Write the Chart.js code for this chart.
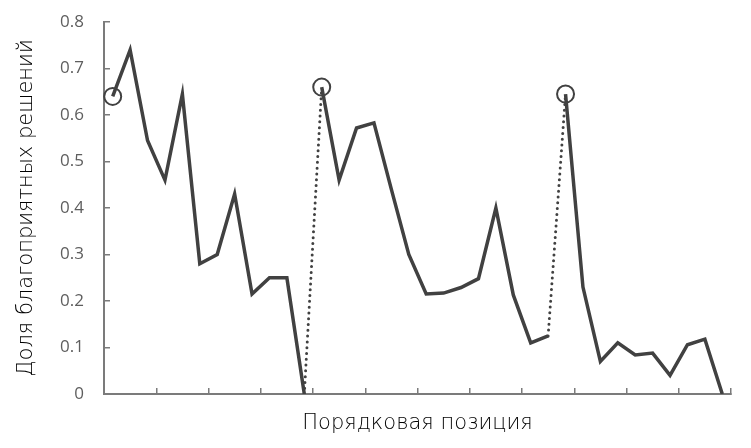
<!DOCTYPE html>
<html>
<head>
<meta charset="utf-8">
<script src="https://cdn.jsdelivr.net/npm/chart.js@4"></script>
<style>
  html, body { margin: 0; padding: 0; background: #fff; }
  #wrap { width: 751px; height: 448px; }
</style>
</head>
<body>
<div id="wrap"><canvas id="chart"></canvas></div>
<script>
// ordinal positions (categories)
const positions = [1, 2, 3, 4, 5, 6, 7, 8, 9, 10, 11, 12,
  13, 14, 15, 16, 17, 18, 19, 20, 21, 22, 23, 24, 25, 26,
  27, 28, 29, 30, 31, 32, 33, 34, 35, 36];

// share of favourable decisions
const shares = [0.64, 0.74, 0.545, 0.46, 0.645, 0.28, 0.30, 0.43, 0.215, 0.25, 0.25, 0.0,
  0.66, 0.46, 0.572, 0.583, 0.44, 0.30, 0.215, 0.217, 0.229, 0.248, 0.40, 0.213, 0.11, 0.125,
  0.645, 0.23, 0.07, 0.11, 0.084, 0.088, 0.04, 0.106, 0.118, 0.0];

// points with a circle round them
const circled = [0, 12, 26];
// segments starting at these indices are dotted (the breaks)
const dottedFrom = [11, 25];

// y tick values
const yTicks = [0, 0.1, 0.2, 0.3, 0.4, 0.5, 0.6, 0.7, 0.8];

const lineColor = '#414141';
const axisColor = '#7b7b7b';

const ctx = document.getElementById('chart').getContext('2d');
new Chart(ctx, {
  type: 'line',
  data: {
    labels: positions,
    datasets: [{
      data: shares,
      borderColor: lineColor,
      borderWidth: 3.5,
      borderJoinStyle: 'miter',
      tension: 0,
      pointRadius: c => circled.includes(c.dataIndex) ? 8.5 : 0,
      pointBorderWidth: 2,
      pointBorderColor: lineColor,
      pointBackgroundColor: 'rgba(0,0,0,0)',
      segment: {
        borderDash: c => dottedFrom.includes(c.p0DataIndex) ? [0, 5.8] : undefined,
        borderCapStyle: c => dottedFrom.includes(c.p0DataIndex) ? 'round' : 'butt',
        borderWidth: c => dottedFrom.includes(c.p0DataIndex) ? 3 : 3.5
      }
    }]
  },
  options: {
    responsive: true,
    maintainAspectRatio: false,
    animation: false,
    layout: { padding: { left: 4, right: 20, top: 22, bottom: 12 } },
    plugins: {
      legend: { display: false },
      tooltip: { enabled: false }
    },
    scales: {
      x: {
        offset: true,
        afterFit: s => { s.height = 42; },
        grid: {
          offset: true,
          drawOnChartArea: false,
          tickLength: -6,
          lineWidth: 1.5,
          tickColor: c => (c.index === undefined || c.index % 3 === 0) ? axisColor : 'rgba(0,0,0,0)'
        },
        border: { color: axisColor, width: 2 },
        ticks: { display: false },
        title: {
          display: true,
          text: 'Порядковая позиция',
          color: '#000',
          font: { family: 'DejaVu Sans', size: 21, weight: 200 },
          padding: { top: 0, bottom: 0 }
        }
      },
      y: {
        min: 0,
        max: 0.8,
        afterFit: s => { s.width = 100; s.paddingTop = 0; s.paddingBottom = 0; },
        afterBuildTicks: s => { s.ticks = yTicks.map(v => ({ value: v })); },
        grid: {
          drawOnChartArea: false,
          tickLength: -6,
          lineWidth: 1.5,
          tickColor: axisColor
        },
        border: { color: axisColor, width: 2 },
        ticks: {
          padding: 26,
          color: '#5e5e5e',
          font: { family: 'Open Sans', size: 17 },
          callback: v => v === 0 ? '0' : v.toFixed(1)
        },
        title: {
          display: true,
          text: 'Доля благоприятных решений',
          color: '#000',
          font: { family: 'DejaVu Sans', size: 21, weight: 200 },
          padding: { top: 10, bottom: 0 }
        }
      }
    }
  }
});
</script>
</body>
</html>
